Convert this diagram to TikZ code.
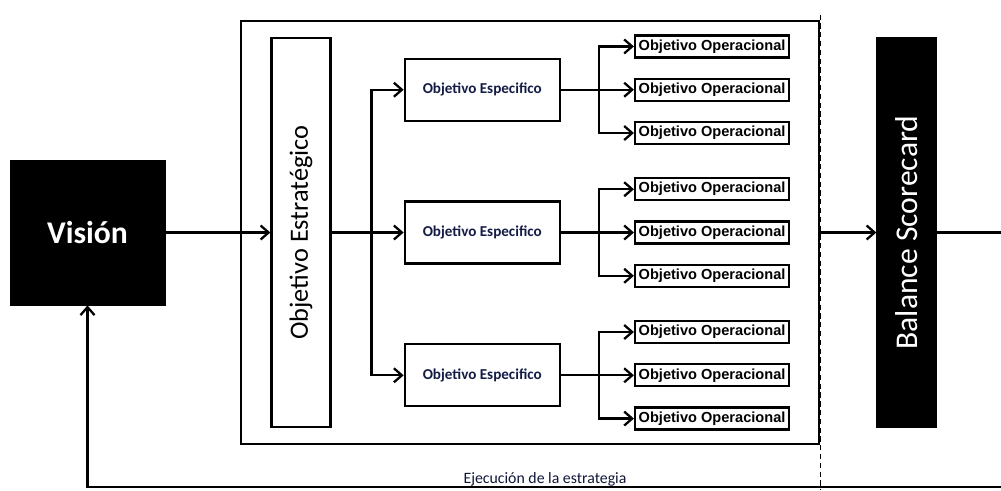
\documentclass[tikz,border=0pt]{standalone}
\usepackage{fontspec}
\setmainfont{Carlito}
\newfontfamily\opfont{Liberation Sans}
\usetikzlibrary{arrows.meta,positioning,fit,calc}
\definecolor{tintaazul}{RGB}{20,28,70}
\tikzset{
	negrobox/.style={rectangle, draw=black, fill=black, text=white, align=center, inner sep=0pt},
	blancobox/.style={rectangle, draw=black, line width=1.3pt, fill=white, align=center, inner sep=0pt},
	specbox/.style={blancobox, minimum width=3.1cm, minimum height=1.24cm,
		font=\bfseries\fontsize{8.6}{10}\selectfont, text=tintaazul},
	opbox/.style={blancobox, minimum width=3.08cm, minimum height=0.44cm,
		font=\opfont\bfseries\fontsize{8.3}{9}\selectfont},
	flowarr/.style={-{Straight Barb[length=1.6mm,width=2.8mm]}, line width=1.3pt},
	flowline/.style={line width=1.3pt}
}
\begin{document}
\begin{tikzpicture}[node distance=1.46cm]
	\useasboundingbox (0,0) rectangle (20.02,-9.8);
	\node[negrobox, minimum width=3.1cm, minimum height=2.9cm, font=\bfseries\fontsize{18}{20}\selectfont] (vision) at (1.75,-4.65) {Visión};
	\node[blancobox, minimum width=1.18cm, minimum height=7.78cm, font=\fontsize{15}{17}\selectfont, right=2.1cm of vision] (estrat) {\rotatebox{90}{Objetivo Estratégico}};
	\node[specbox, right=1.44cm of estrat] (spec2) {Objetivo Especifico};
	\node[specbox, above=1.57cm of spec2] (spec1) {Objetivo Especifico};
	\node[specbox, below=1.57cm of spec2] (spec3) {Objetivo Especifico};
	% operacionales de cada especifico
	\foreach \g in {1,2,3}{
		\node[opbox, right=of spec\g] (op\g2) {Objetivo Operacional};
		\node[opbox, above=0.38cm of op\g2] (op\g1) {Objetivo Operacional};
		\node[opbox, below=0.38cm of op\g2] (op\g3) {Objetivo Operacional};
		\coordinate (k\g) at ($(spec\g.east)+(0.76,0)$);
		\draw[flowarr] (spec\g) -- (op\g2);
		\draw[flowarr] (k\g) |- (op\g1);
		\draw[flowarr] (k\g) |- (op\g3);
	}
	\node[draw=black, line width=1.3pt, fit=(estrat)(op11)(op33), inner xsep=0.58cm, inner ysep=0.27cm] (marco) {};
	\node[negrobox, minimum width=1.2cm, minimum height=7.8cm, font=\fontsize{18}{20}\selectfont, right=1.12cm of marco] (bal) {\rotatebox{90}{Balance Scorecard}};
	\coordinate (j1) at ($(estrat.east)+(0.8,0)$);
	\coordinate (fin) at (20.02,-9.74);
	\draw[densely dashed, line width=0.6pt] ([yshift=1mm]marco.north east) -- (marco.north east |- 0,-9.8);
	\draw[flowarr] (vision) -- (estrat);
	\draw[flowarr] (estrat) -- (spec2);
	\draw[flowarr] (j1) |- (spec1);
	\draw[flowarr] (j1) |- (spec3);
	\draw[flowarr] (marco) -- (bal);
	\draw[flowline] (bal) -- (bal -| fin);
	\draw[flowarr] (fin) -| (vision);
	\node[anchor=base, inner sep=0pt, text=tintaazul!80!black, font=\fontsize{9}{11}\selectfont] (ejec) at (10.9,-9.66) {Ejecución de la estrategia};
\end{tikzpicture}
\end{document}
